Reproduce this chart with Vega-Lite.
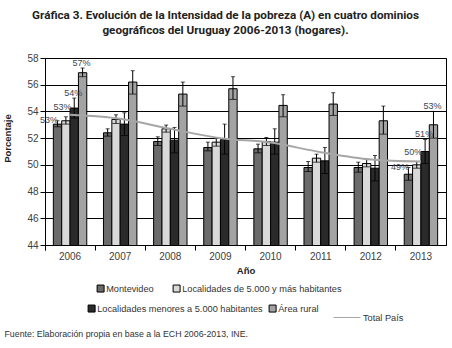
{
  "$schema": "https://vega.github.io/schema/vega-lite/v6.json",
  "background": "white",
  "width": 401,
  "height": 187,
  "autosize": "none",
  "padding": {"left": 45, "top": 58, "right": 6, "bottom": 103},
  "config": {
    "font": "Liberation Sans",
    "view": {"stroke": "black", "strokeWidth": 1},
    "axis": {
      "labelFont": "Liberation Sans", "labelFontSize": 10, "labelColor": "#404040",
      "titleFont": "Liberation Sans", "titleFontSize": 9.5, "titleFontWeight": "bold", "titleColor": "#222222",
      "domainColor": "black", "tickColor": "black", "gridColor": "black", "gridOpacity": 1,
      "domainWidth": 1, "tickWidth": 1, "gridWidth": 1
    },
    "axisX": {"labelAngle": 0, "bandPosition": 0, "tickExtra": true, "tickSize": 5, "labelPadding": 1, "titlePadding": 4, "grid": false},
    "axisY": {"tickCount": 8, "grid": true, "tickSize": 5, "labelPadding": 2},
    "legend": {
      "labelFont": "Liberation Sans", "labelFontSize": 9.2, "labelColor": "#333333", "labelLimit": 300,
      "symbolStrokeColor": "black", "symbolStrokeWidth": 1, "labelOffset": 1,
      "columnPadding": 9, "padding": 0, "rowPadding": 0
    }
  },
  "title": {
    "text": ["Gráfica 3. Evolución de la Intensidad de la pobreza (A) en cuatro dominios", "geográficos del Uruguay 2006-2013 (hogares)."],
    "anchor": "middle", "frame": "group", "dx": -20,
    "font": "Roboto", "fontSize": 11.7, "fontWeight": "bold", "color": "#222222",
    "lineHeight": 15, "offset": 16.5
  },
  "datasets": {
    "barras": [
      {"anio": "2006", "dominio": "Montevideo", "valor": 53.05, "inf": 52.85, "sup": 53.3, "etiqueta": "53%"},
      {"anio": "2006", "dominio": "Localidades de 5.000 y más habitantes", "valor": 53.3, "inf": 53.05, "sup": 53.6, "etiqueta": "53%"},
      {"anio": "2006", "dominio": "Localidades menores a 5.000 habitantes", "valor": 54.25, "inf": 53.5, "sup": 55.0, "etiqueta": "54%"},
      {"anio": "2006", "dominio": "Área rural", "valor": 56.9, "inf": 56.6, "sup": 57.25, "etiqueta": "57%"},
      {"anio": "2007", "dominio": "Montevideo", "valor": 52.4, "inf": 52.15, "sup": 52.7, "etiqueta": ""},
      {"anio": "2007", "dominio": "Localidades de 5.000 y más habitantes", "valor": 53.4, "inf": 53.1, "sup": 53.75, "etiqueta": ""},
      {"anio": "2007", "dominio": "Localidades menores a 5.000 habitantes", "valor": 53.05, "inf": 52.2, "sup": 53.9, "etiqueta": ""},
      {"anio": "2007", "dominio": "Área rural", "valor": 56.2, "inf": 55.3, "sup": 57.05, "etiqueta": ""},
      {"anio": "2008", "dominio": "Montevideo", "valor": 51.75, "inf": 51.45, "sup": 52.1, "etiqueta": ""},
      {"anio": "2008", "dominio": "Localidades de 5.000 y más habitantes", "valor": 52.7, "inf": 52.45, "sup": 52.98, "etiqueta": ""},
      {"anio": "2008", "dominio": "Localidades menores a 5.000 habitantes", "valor": 51.85, "inf": 50.9, "sup": 52.8, "etiqueta": ""},
      {"anio": "2008", "dominio": "Área rural", "valor": 55.3, "inf": 54.4, "sup": 56.2, "etiqueta": ""},
      {"anio": "2009", "dominio": "Montevideo", "valor": 51.3, "inf": 51.05, "sup": 51.7, "etiqueta": ""},
      {"anio": "2009", "dominio": "Localidades de 5.000 y más habitantes", "valor": 51.7, "inf": 51.4, "sup": 51.98, "etiqueta": ""},
      {"anio": "2009", "dominio": "Localidades menores a 5.000 habitantes", "valor": 51.9, "inf": 50.8, "sup": 53.05, "etiqueta": ""},
      {"anio": "2009", "dominio": "Área rural", "valor": 55.7, "inf": 54.9, "sup": 56.6, "etiqueta": ""},
      {"anio": "2010", "dominio": "Montevideo", "valor": 51.2, "inf": 50.9, "sup": 51.55, "etiqueta": ""},
      {"anio": "2010", "dominio": "Localidades de 5.000 y más habitantes", "valor": 51.75, "inf": 51.45, "sup": 52.05, "etiqueta": ""},
      {"anio": "2010", "dominio": "Localidades menores a 5.000 habitantes", "valor": 51.7, "inf": 50.8, "sup": 52.7, "etiqueta": ""},
      {"anio": "2010", "dominio": "Área rural", "valor": 54.45, "inf": 53.6, "sup": 55.25, "etiqueta": ""},
      {"anio": "2011", "dominio": "Montevideo", "valor": 49.8, "inf": 49.5, "sup": 50.25, "etiqueta": ""},
      {"anio": "2011", "dominio": "Localidades de 5.000 y más habitantes", "valor": 50.5, "inf": 50.2, "sup": 50.8, "etiqueta": ""},
      {"anio": "2011", "dominio": "Localidades menores a 5.000 habitantes", "valor": 50.3, "inf": 49.35, "sup": 51.3, "etiqueta": ""},
      {"anio": "2011", "dominio": "Área rural", "valor": 54.55, "inf": 53.7, "sup": 55.4, "etiqueta": ""},
      {"anio": "2012", "dominio": "Montevideo", "valor": 49.8, "inf": 49.45, "sup": 50.2, "etiqueta": ""},
      {"anio": "2012", "dominio": "Localidades de 5.000 y más habitantes", "valor": 50.1, "inf": 49.85, "sup": 50.4, "etiqueta": ""},
      {"anio": "2012", "dominio": "Localidades menores a 5.000 habitantes", "valor": 49.75, "inf": 48.8, "sup": 50.7, "etiqueta": ""},
      {"anio": "2012", "dominio": "Área rural", "valor": 53.3, "inf": 52.3, "sup": 54.4, "etiqueta": ""},
      {"anio": "2013", "dominio": "Montevideo", "valor": 49.3, "inf": 48.85, "sup": 49.8, "etiqueta": "49%"},
      {"anio": "2013", "dominio": "Localidades de 5.000 y más habitantes", "valor": 50.0, "inf": 49.75, "sup": 50.25, "etiqueta": "50%"},
      {"anio": "2013", "dominio": "Localidades menores a 5.000 habitantes", "valor": 51.0, "inf": 50.1, "sup": 51.9, "etiqueta": "51%"},
      {"anio": "2013", "dominio": "Área rural", "valor": 53.0, "inf": 52.0, "sup": 54.0, "etiqueta": "53%"}
    ],
    "total": [
      {"anio": "2006", "total": 53.75},
      {"anio": "2007", "total": 53.45},
      {"anio": "2008", "total": 52.7},
      {"anio": "2009", "total": 52.0},
      {"anio": "2010", "total": 51.67},
      {"anio": "2011", "total": 50.95},
      {"anio": "2012", "total": 50.4},
      {"anio": "2013", "total": 50.25}
    ]
  },
  "layer": [
    {
      "data": {"name": "barras"},
      "layer": [
        {
          "transform": [{"filter": "datum.dominio === 'Montevideo' || datum.dominio === 'Localidades de 5.000 y más habitantes'"}],
          "mark": {"type": "bar", "stroke": "black", "strokeWidth": 1, "clip": true},
          "encoding": {
            "x": {"field": "anio", "type": "nominal", "title": "Año",
                  "scale": {"paddingInner": 0, "paddingOuter": 0}},
            "xOffset": {"field": "dominio", "type": "nominal",
                        "scale": {"domain": ["Montevideo", "Localidades de 5.000 y más habitantes", "Localidades menores a 5.000 habitantes", "Área rural"], "paddingInner": 0, "paddingOuter": 1.23}},
            "y": {"field": "valor", "type": "quantitative", "title": "Porcentaje",
                  "scale": {"domain": [44, 58], "zero": false, "nice": false},
                  "axis": {"titleX": -33, "titleY": 80}},
            "fill": {"field": "dominio", "type": "nominal",
                     "scale": {"domain": ["Montevideo", "Localidades de 5.000 y más habitantes"], "range": ["#6b6b6b", "#d9d9d9"]},
                     "legend": {"orient": "none", "legendX": 51, "legendY": 225.5, "direction": "horizontal", "title": null, "symbolType": "square", "symbolSize": 49, "columnPadding": 17}}
          }
        },
        {
          "transform": [{"filter": "datum.dominio === 'Localidades menores a 5.000 habitantes' || datum.dominio === 'Área rural'"}],
          "mark": {"type": "bar", "stroke": "black", "strokeWidth": 1, "clip": true},
          "encoding": {
            "x": {"field": "anio", "type": "nominal", "title": "Año"},
            "xOffset": {"field": "dominio", "type": "nominal",
                        "scale": {"domain": ["Montevideo", "Localidades de 5.000 y más habitantes", "Localidades menores a 5.000 habitantes", "Área rural"], "paddingInner": 0, "paddingOuter": 1.23}},
            "y": {"field": "valor", "type": "quantitative", "title": "Porcentaje"},
            "fill": {"field": "dominio", "type": "nominal",
                     "scale": {"domain": ["Localidades menores a 5.000 habitantes", "Área rural"], "range": ["#2a2a2a", "#a3a3a3"]},
                     "legend": {"orient": "none", "legendX": 42, "legendY": 245.5, "direction": "horizontal", "title": null, "symbolType": "square", "symbolSize": 49, "columnPadding": 4}}
          }
        },
        {
          "mark": {"type": "rule", "color": "black", "strokeWidth": 1},
          "encoding": {
            "x": {"field": "anio", "type": "nominal", "title": "Año"},
            "xOffset": {"field": "dominio", "type": "nominal"},
            "y": {"field": "inf", "type": "quantitative", "title": "Porcentaje"},
            "y2": {"field": "sup"}
          }
        },
        {
          "mark": {"type": "tick", "color": "black", "size": 4, "thickness": 1},
          "encoding": {
            "x": {"field": "anio", "type": "nominal", "title": "Año"},
            "xOffset": {"field": "dominio", "type": "nominal"},
            "y": {"field": "sup", "type": "quantitative", "title": "Porcentaje"}
          }
        },
        {
          "mark": {"type": "tick", "color": "black", "size": 7.5, "thickness": 1},
          "encoding": {
            "x": {"field": "anio", "type": "nominal", "title": "Año"},
            "xOffset": {"field": "dominio", "type": "nominal"},
            "y": {"field": "inf", "type": "quantitative", "title": "Porcentaje"}
          }
        },
        {
          "transform": [{"filter": "datum.etiqueta !== '' && datum.dominio === 'Montevideo'"}],
          "mark": {"type": "text", "align": "right", "baseline": "middle", "dx": 0.5, "dy": -1, "fontSize": 9, "color": "#3c4450"},
          "encoding": {
            "x": {"field": "anio", "type": "nominal", "title": "Año"},
            "xOffset": {"field": "dominio", "type": "nominal"},
            "y": {"field": "sup", "type": "quantitative", "title": "Porcentaje"},
            "text": {"field": "etiqueta"}
          }
        },
        {
          "transform": [{"filter": "datum.etiqueta !== '' && datum.dominio === 'Localidades de 5.000 y más habitantes'"}],
          "mark": {"type": "text", "align": "center", "baseline": "middle", "dx": -3.5, "dy": -10, "fontSize": 9, "color": "#3c4450"},
          "encoding": {
            "x": {"field": "anio", "type": "nominal", "title": "Año"},
            "xOffset": {"field": "dominio", "type": "nominal"},
            "y": {"field": "sup", "type": "quantitative", "title": "Porcentaje"},
            "text": {"field": "etiqueta"}
          }
        },
        {
          "transform": [{"filter": "datum.etiqueta !== '' && (datum.dominio === 'Localidades menores a 5.000 habitantes' || datum.dominio === 'Área rural')"}],
          "mark": {"type": "text", "align": "center", "baseline": "middle", "dx": -1, "dy": -5.5, "fontSize": 9, "color": "#3c4450"},
          "encoding": {
            "x": {"field": "anio", "type": "nominal", "title": "Año"},
            "xOffset": {"field": "dominio", "type": "nominal"},
            "y": {"field": "sup", "type": "quantitative", "title": "Porcentaje"},
            "text": {"field": "etiqueta"}
          }
        }
      ],
      "resolve": {"scale": {"fill": "independent"}}
    },
    {
      "data": {"name": "total"},
      "mark": {"type": "line", "strokeWidth": 2, "interpolate": "monotone"},
      "encoding": {
        "x": {"field": "anio", "type": "nominal", "title": "Año"},
        "y": {"field": "total", "type": "quantitative",
              "scale": {"domain": [44, 58], "zero": false, "nice": false},
              "axis": {"orient": "right", "labels": false, "ticks": false, "domain": false, "grid": false,
                       "title": "Fuente: Elaboración propia en base a la ECH 2006-2013, INE.",
                       "titleAngle": 0, "titleAlign": "left", "titleBaseline": "alphabetic",
                       "titleX": -442, "titleY": 278, "titleFontWeight": "normal", "titleFontSize": 8.8,
                       "titleColor": "#333333", "titleFont": "Liberation Sans"}},
        "stroke": {"datum": "Total País", "type": "nominal",
                   "scale": {"range": ["#a6a6a6"]},
                   "legend": {"orient": "none", "legendX": 288, "legendY": 245.5, "title": null, "symbolType": "stroke", "symbolSize": 729, "symbolStrokeWidth": 1, "labelOffset": 2}}
      }
    }
  ],
  "resolve": {"scale": {"y": "independent"}}
}
